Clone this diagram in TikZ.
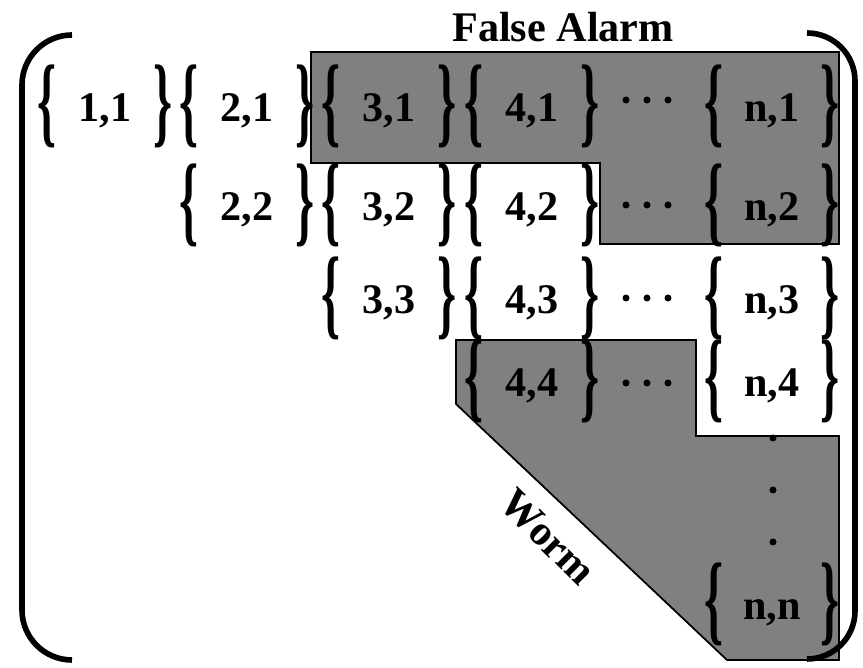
\documentclass[tikz,border=0pt]{standalone}
\usepackage{fontspec}
\setmainfont{Liberation Serif}
\usepackage{graphicx}
\newcommand{\lbr}{\resizebox*{0.19cm}{0.83cm}{\{}}
\newcommand{\rbr}{\resizebox*{0.19cm}{0.83cm}{\}}}

\begin{document}
\begin{tikzpicture}[label distance=0mm,
  entry/.style={inner sep=0pt, minimum width=0.94cm, text height=9.1pt, text depth=0pt,
    label={[inner sep=0pt]left:\lbr}, label={[inner sep=0pt]right:\rbr}},
  vdot/.style={circle, fill, inner sep=0pt, minimum size=0.07cm},
  region/.style={draw, fill=gray, line width=0.5pt},
  paren/.style={line width=1.6pt}]
\fontsize{12}{14}\selectfont\bfseries
\useasboundingbox (0,0) rectangle (8.63,-6.68);
\path[region] (3.11,-0.52) -- (8.39,-0.52) -- (8.39,-2.44) -- (6.00,-2.44) -- (6.00,-1.63) -- (3.11,-1.63) -- cycle;
\path[region] (4.56,-3.40) -- (6.96,-3.40) -- (6.96,-4.36) -- (8.39,-4.36) -- (8.39,-6.60) -- (7.27,-6.60) -- (4.56,-4.04) -- cycle;
\draw[paren] (0.72,-0.35) arc[start angle=90,end angle=180,radius=0.5] -- (0.22,-6.10) arc[start angle=180,end angle=270,radius=0.5];
\draw[paren] (8.07,-0.33) arc[start angle=90,end angle=0,radius=0.48] -- (8.55,-6.11) arc[start angle=0,end angle=-90,radius=0.48];
\node (alarm) at (5.63,-0.27) {False Alarm};
\node[rotate=-45] (worm) at (5.48,-5.37) {Worm};
\node[entry] (c11) at (1.05,-1.06) {1,1};
\node[entry] (c21) at (2.47,-1.06) {2,1};
\node[entry] (c31) at (3.89,-1.06) {3,1};
\node[entry] (c41) at (5.32,-1.06) {4,1};
\node[entry] (cn1) at (7.72,-1.06) {n,1};
\node[entry] (c22) at (2.47,-2.05) {2,2};
\node[entry] (c32) at (3.89,-2.05) {3,2};
\node[entry] (c42) at (5.32,-2.05) {4,2};
\node[entry] (cn2) at (7.72,-2.05) {n,2};
\node[entry] (c33) at (3.89,-2.98) {3,3};
\node[entry] (c43) at (5.32,-2.98) {4,3};
\node[entry] (cn3) at (7.72,-2.98) {n,3};
\node[entry] (c44) at (5.32,-3.81) {4,4};
\node[entry] (cn4) at (7.72,-3.81) {n,4};
\node[entry] (cnn) at (7.72,-6.04) {n,n};
\foreach \y/\r in {-1.00/1,-2.05/2,-2.98/3,-3.83/4} {
  \node[vdot] (h\r a) at (6.26,\y) {};
  \node[vdot] (h\r b) at (6.47,\y) {};
  \node[vdot] (h\r c) at (6.68,\y) {};
}
\node[vdot] (v1) at (7.73,-4.38) {};
\node[vdot] (v2) at (7.73,-4.90) {};
\node[vdot] (v3) at (7.73,-5.42) {};
\end{tikzpicture}
\end{document}
